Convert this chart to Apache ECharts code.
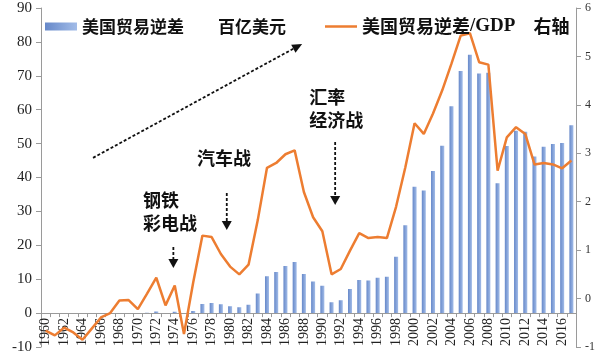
<!DOCTYPE html>
<html><head><meta charset="utf-8">
<script src="https://cdn.jsdelivr.net/npm/echarts@6/dist/echarts.min.js"></script>
<style>html,body{margin:0;padding:0;background:#fff}#c{width:605px;height:360px}</style>
</head><body><div id="c"></div>
<script>
const years = ['1960','1961','1962','1963','1964','1965','1966','1967','1968','1969',
  '1970','1971','1972','1973','1974','1975','1976','1977','1978','1979',
  '1980','1981','1982','1983','1984','1985','1986','1987','1988','1989',
  '1990','1991','1992','1993','1994','1995','1996','1997','1998','1999',
  '2000','2001','2002','2003','2004','2005','2006','2007','2008','2009',
  '2010','2011','2012','2013','2014','2015','2016','2017'];
// 美国贸易逆差 (百亿美元)
const deficit = [0,0,0,0,0,0,0,0,0,0,
  0,0.1,0.5,0,0.4,0,0.6,2.7,3.0,2.6,
  2.0,1.7,2.5,5.8,10.9,12.1,13.9,15.1,11.5,9.3,
  8.1,3.2,3.8,7.1,9.8,9.6,10.4,10.7,16.6,25.9,
  37.3,36.2,41.9,49.4,61.0,71.4,76.2,70.7,70.9,38.3,
  49.3,53.8,53.5,46.2,49.1,49.9,50.2,55.4];
// 美国贸易逆差/GDP (%), 右轴
const ratio = [-0.66,-0.76,-0.60,-0.70,-0.85,-0.62,-0.39,-0.30,-0.04,-0.03,
  -0.22,0.10,0.43,-0.14,0.27,-0.73,0.33,1.30,1.27,0.92,
  0.66,0.50,0.70,1.62,2.70,2.80,2.98,3.06,2.20,1.68,
  1.39,0.50,0.61,0.99,1.35,1.25,1.27,1.25,1.90,2.71,
  3.62,3.40,3.82,4.30,4.85,5.43,5.48,4.88,4.83,2.64,
  3.33,3.54,3.40,2.77,2.80,2.77,2.69,2.85];
const leftTicks = [-10,0,10,20,30,40,50,60,70,80,90];
const rightTicks = [-1,0,1,2,3,4,5,6];

// annotations (in data space: [year, left-axis value])
const noteTexts = ['钢铁\n彩电战', '汽车战', '汇率\n经济战'];
const noteAnchors = [[1970.56, 36.6], [1976.42, 49.0], [1988.57, 67.2]];
const arrowDown = [[1973.85, 19.5, 13.3], [1979.64, 35.4, 24.5], [1991.39, 50.5, 31.9]];
const trendArrow = [[1965.14, 45.8], [1987.81, 79.4]];

const W = 605, H = 360;
const gridBox = {left: 41, right: 29, top: 8, bottom: 13};
const lMin = leftTicks[0], lMax = leftTicks[leftTicks.length - 1];
// shift the category axis up to the left axis' zero
const plotH = H - gridBox.top - gridBox.bottom;
const xOffset = -plotH * (0 - lMin) / (lMax - lMin);

const chart = echarts.init(document.getElementById('c'));
const axisColor = '#9a9a9a';
const option = {
  animation: false,
  backgroundColor: '#fff',
  grid: Object.assign({containLabel: false, outerBoundsMode: 'none'}, gridBox),
  legend: {
    left: 40, top: 12, itemGap: 39, itemWidth: 32, itemHeight: 8,
    data: [{name: '美国贸易逆差', icon: 'rect'},
           {name: '美国贸易逆差/GDP', icon: 'path://M0,0H32V2.6H0Z'}],
    formatter: n => n === '美国贸易逆差' ? '{a|美国贸易逆差　　百亿美元}' : '{b|美国贸易逆差}{g|/GDP}{b|　右轴}',
    textStyle: {
      color: '#111',
      rich: {
        a: {fontFamily: 'Noto Sans CJK SC', fontSize: 17, fontWeight: 'bold', color: '#111'},
        b: {fontFamily: 'Noto Sans CJK SC', fontSize: 18, fontWeight: 'bold', color: '#111'},
        g: {fontFamily: 'Liberation Serif', fontSize: 19, fontWeight: 'bold', color: '#111'}
      }
    }
  },
  xAxis: {
    type: 'category', data: years, boundaryGap: true, position: 'bottom', offset: xOffset,
    axisLine: {onZero: false, lineStyle: {color: axisColor, width: 1}},
    axisTick: {show: true, interval: 0, length: 4, lineStyle: {color: axisColor}},
    axisLabel: {rotate: 90, interval: 1, fontFamily: 'Liberation Serif', fontSize: 14, color: '#222', margin: 5}
  },
  yAxis: [{
    type: 'value', position: 'left',
    min: lMin, max: lMax, interval: leftTicks[1] - leftTicks[0],
    axisLine: {show: true, lineStyle: {color: axisColor}},
    axisTick: {show: true, length: 5, lineStyle: {color: axisColor}},
    splitLine: {show: false},
    axisLabel: {fontFamily: 'Liberation Serif', fontSize: 15, color: '#222', margin: 9}
  }, {
    type: 'value', position: 'right',
    min: rightTicks[0], max: rightTicks[rightTicks.length - 1], interval: rightTicks[1] - rightTicks[0],
    axisLine: {show: true, lineStyle: {color: axisColor}},
    axisTick: {show: true, length: 5, lineStyle: {color: axisColor}},
    splitLine: {show: false},
    axisLabel: {fontFamily: 'Liberation Serif', fontSize: 12, color: '#333', margin: 9}
  }],
  series: [{
    name: '美国贸易逆差', type: 'bar', yAxisIndex: 0, data: deficit, barWidth: 4,
    itemStyle: {color: new echarts.graphic.LinearGradient(0, 0, 1, 0, [
      {offset: 0, color: '#6688c9'}, {offset: 1, color: '#a2bce8'}])}
  }, {
    name: '美国贸易逆差/GDP', type: 'line', yAxisIndex: 1, data: ratio,
    symbol: 'none', lineStyle: {color: '#ED7D31', width: 2.5}, itemStyle: {color: '#ED7D31'}, z: 3
  }]
};
chart.setOption(option);

function px(yearF, val) {
  const i = Math.floor(yearF - 1960);
  const a = chart.convertToPixel({xAxisIndex: 0, yAxisIndex: 0}, [i, val]);
  const b = chart.convertToPixel({xAxisIndex: 0, yAxisIndex: 0}, [i + 1, val]);
  const f = yearF - 1960 - i;
  return [a[0] + (b[0] - a[0]) * f, a[1]];
}
function arrow(p0, p1, hl, hw) {
  const dx = p1[0] - p0[0], dy = p1[1] - p0[1];
  const L = Math.sqrt(dx * dx + dy * dy), ux = dx / L, uy = dy / L;
  const bx = p1[0] - ux * hl, by = p1[1] - uy * hl;
  return [
    {type: 'line', shape: {x1: p0[0], y1: p0[1], x2: bx, y2: by},
     style: {stroke: '#111', lineWidth: 1.8, lineDash: [3, 2]}, z: 10},
    {type: 'polygon', shape: {points: [[p1[0], p1[1]], [bx - uy * hw / 2, by + ux * hw / 2], [bx + uy * hw / 2, by - ux * hw / 2]]},
     style: {fill: '#111'}, z: 10}
  ];
}
const g = [];
noteTexts.forEach((t, k) => {
  const p = px(noteAnchors[k][0], noteAnchors[k][1]);
  g.push({type: 'text', x: p[0], y: p[1], z: 10,
    style: {text: t, fontFamily: 'Noto Sans CJK SC', fontSize: 18, fontWeight: 'bold', fill: '#111',
      lineHeight: 23, textAlign: 'left', textVerticalAlign: 'top'}});
});
arrowDown.forEach(a => {
  g.push(...arrow(px(a[0], a[1]), px(a[0], a[2]), 9, 10));
});
g.push(...arrow(px(trendArrow[0][0], trendArrow[0][1]), px(trendArrow[1][0], trendArrow[1][1]), 10, 9));
chart.setOption({graphic: g});
</script></body></html>
